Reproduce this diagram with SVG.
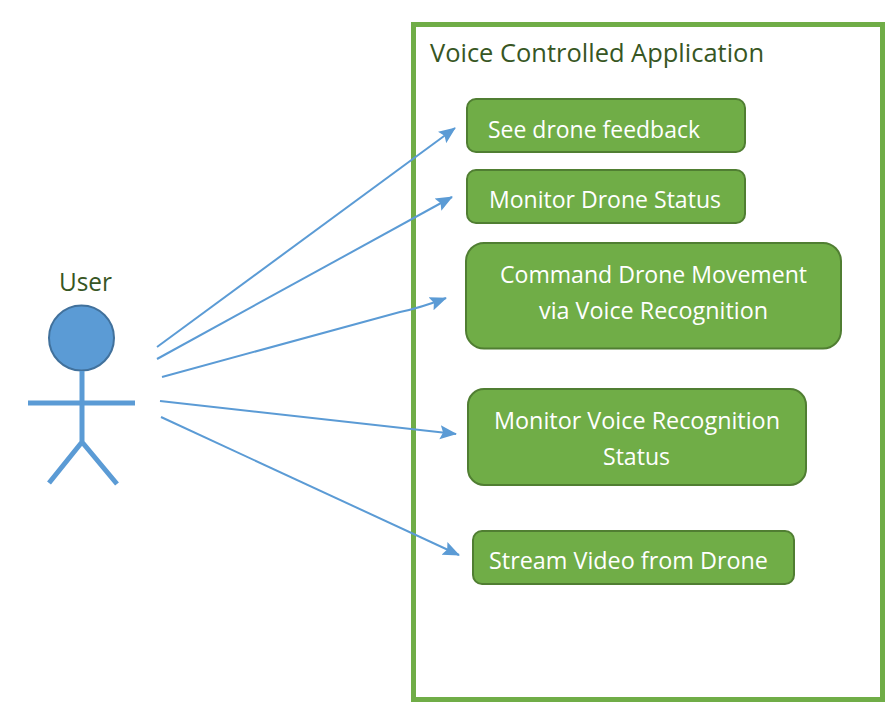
<svg xmlns="http://www.w3.org/2000/svg" width="896" height="716" viewBox="0 0 896 716">
<style>
text{font-family:"Open Sans","Noto Sans",sans-serif;font-size:23px}
.t{fill:#fff}
.d{fill:#375623}
.l{font-size:25px}
.b{fill:#70ad47;stroke:#507e32;stroke-width:2}
.c{fill:none;stroke:#5b9bd5;stroke-width:2;marker-end:url(#a)}
.s{fill:none;stroke:#5b9bd5;stroke-width:5}
</style>
<defs><marker id="a" markerUnits="userSpaceOnUse" markerWidth="17" markerHeight="16" refX="16" refY="8" orient="auto"><path d="M0 1L17 8L0 15L3 8Z" fill="#5b9bd5"/></marker></defs>
<rect width="896" height="716" fill="#fff"/>
<g id="app"><rect x="413.500" y="24.500" width="469" height="675" fill="none" stroke="#70ad47" stroke-width="5"/><text class="d l" x="430" y="62" textLength="334" lengthAdjust="spacingAndGlyphs">Voice Controlled Application</text></g>
<g id="user"><text class="d l" x="59" y="291" textLength="53" lengthAdjust="spacingAndGlyphs">User</text><circle cx="81.500" cy="338" r="32.500" fill="#5b9bd5" stroke="#41719c" stroke-width="2"/><path class="s" d="M82 371V442M28 403H135M82 442L49 483M82 442L117 484"/></g>
<g id="n1"><rect class="b" x="467" y="99" width="278" height="53" rx="9"/><text class="t" x="488" y="137.500" textLength="212" lengthAdjust="spacingAndGlyphs">See drone feedback</text></g>
<g id="n2"><rect class="b" x="467" y="170" width="278" height="53" rx="9"/><text class="t" x="489" y="207.500" textLength="232" lengthAdjust="spacingAndGlyphs">Monitor Drone Status</text></g>
<g id="n3"><rect class="b" x="466" y="243" width="375" height="105.500" rx="18"/><text class="t" x="500" y="282.500" textLength="307" lengthAdjust="spacingAndGlyphs">Command Drone Movement</text><text class="t" x="539" y="318.500" textLength="229" lengthAdjust="spacingAndGlyphs">via Voice Recognition</text></g>
<g id="n4"><rect class="b" x="468" y="389" width="338" height="96" rx="16"/><text class="t" x="494" y="428.500" textLength="286" lengthAdjust="spacingAndGlyphs">Monitor Voice Recognition</text><text class="t" x="603" y="464.500" textLength="67" lengthAdjust="spacingAndGlyphs">Status</text></g>
<g id="n5"><rect class="b" x="473" y="531" width="321" height="53" rx="9"/><text class="t" x="489" y="568.500" textLength="279" lengthAdjust="spacingAndGlyphs">Stream Video from Drone</text></g>
<g id="connectors">
<path class="c" d="M157 347L455 128"/>
<path class="c" d="M157 359L452 197"/>
<path class="c" d="M162 377L400 312Q420 308 446 298"/>
<path class="c" d="M160 401L456 434"/>
<path class="c" d="M161 417L459 555"/>
</g>
</svg>
